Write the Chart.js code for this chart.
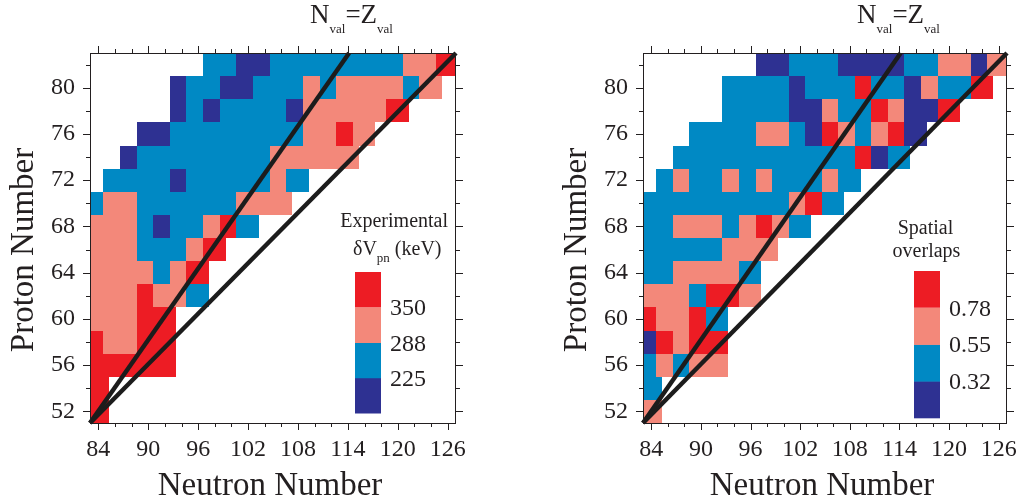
<!DOCTYPE html>
<html>
<head>
<meta charset="utf-8">
<script src="https://cdn.jsdelivr.net/npm/chart.js@4.4.1/dist/chart.umd.min.js"></script>
<style>
  html, body { margin: 0; padding: 0; background: #fff; }
  body { width: 1023px; height: 502px; position: relative; overflow: hidden; }
  canvas { position: absolute; top: 0; }
  #left { left: 0; }
  #right { left: 520px; }
</style>
</head>
<body>
<canvas id="left" width="520" height="502"></canvas>
<canvas id="right" width="503" height="502"></canvas>
<script>
// even-even nuclei between the Z=50 and Z=82, N=82 and N=126 shells
const protons = [82, 80, 78, 76, 74, 72, 70, 68, 66, 64, 62, 60, 58, 56, 54, 52];
const rowStart = [98, 94, 94, 90, 88, 86, 84, 84, 84, 84, 84, 84, 84, 84, 84, 84];

const xTicks = [84, 90, 96, 102, 108, 114, 120, 126];
const yTicks = [52, 56, 60, 64, 68, 72, 76, 80];

// experimental delta V_pn in keV, one array per proton row starting at rowStart
const dVpn = [
  [255, 255, 200, 200, 255, 255, 255, 255, 255, 255, 255, 255, 320, 320, 380],
  [200, 255, 255, 200, 200, 255, 255, 255, 320, 255, 320, 320, 320, 320, 255, 320],
  [200, 255, 200, 255, 255, 255, 255, 200, 320, 320, 320, 320, 320, 380],
  [200, 200, 255, 255, 255, 255, 255, 255, 255, 255, 320, 320, 380, 320],
  [200, 255, 255, 255, 255, 255, 255, 255, 255, 320, 320, 320, 320, 320],
  [255, 255, 255, 255, 200, 255, 255, 255, 255, 255, 320, 255],
  [255, 320, 320, 255, 255, 255, 255, 255, 255, 320, 320, 320],
  [320, 320, 320, 255, 200, 255, 255, 320, 380, 255],
  [320, 320, 320, 255, 255, 255, 320, 380],
  [320, 320, 320, 320, 255, 320, 380],
  [320, 320, 320, 380, 320, 320, 255],
  [320, 320, 320, 380, 380],
  [380, 320, 320, 380, 380],
  [380, 380, 380, 380, 380],
  [380],
  [380]
];

// spatial overlaps of the last proton and neutron orbits
const overlap = [
  [0.25, 0.25, 0.45, 0.45, 0.45, 0.25, 0.25, 0.25, 0.25, 0.45, 0.45, 0.66, 0.66, 0.25, 0.66],
  [0.45, 0.45, 0.45, 0.45, 0.25, 0.45, 0.45, 0.45, 0.88, 0.45, 0.45, 0.25, 0.66, 0.45, 0.45, 0.88],
  [0.45, 0.45, 0.45, 0.45, 0.25, 0.25, 0.66, 0.45, 0.45, 0.88, 0.66, 0.25, 0.25, 0.88],
  [0.45, 0.45, 0.45, 0.45, 0.66, 0.66, 0.45, 0.25, 0.88, 0.66, 0.45, 0.66, 0.88, 0.25],
  [0.45, 0.45, 0.45, 0.45, 0.45, 0.45, 0.45, 0.45, 0.45, 0.45, 0.45, 0.88, 0.25, 0.45],
  [0.45, 0.66, 0.45, 0.45, 0.66, 0.45, 0.66, 0.45, 0.45, 0.45, 0.66, 0.45],
  [0.45, 0.45, 0.45, 0.45, 0.45, 0.45, 0.45, 0.45, 0.45, 0.66, 0.88, 0.45],
  [0.45, 0.45, 0.66, 0.66, 0.66, 0.45, 0.66, 0.88, 0.66, 0.45],
  [0.45, 0.45, 0.45, 0.45, 0.45, 0.66, 0.66, 0.66],
  [0.45, 0.45, 0.66, 0.66, 0.66, 0.66, 0.45],
  [0.66, 0.66, 0.66, 0.45, 0.88, 0.88, 0.66],
  [0.88, 0.66, 0.66, 0.88, 0.45],
  [0.25, 0.88, 0.66, 0.88, 0.88],
  [0.45, 0.66, 0.45, 0.66, 0.66],
  [0.45],
  [0.66]
];

const dVpnBins = [225, 288, 350];
const overlapBins = [0.32, 0.55, 0.78];
const binColors = ["#2e3192", "#0089c4", "#f3887a", "#ed1c24"];

const nValLine = [{ x: 83, y: 51 }, { x: 114.15, y: 83 }];
const diagLine = [{ x: 83, y: 51 }, { x: 127, y: 83 }];

const INK = "#231f20";
const SERIF = "'Liberation Serif', 'Times New Roman', serif";

function colorFor(v, bins) {
  let k = 0;
  while (k < bins.length && v >= bins[k]) k++;
  return binColors[k];
}

// chain of text pieces with their own size and baseline shift (subscripts)
function drawRuns(ctx, x, y, runs) {
  runs.forEach(([t, size, dy]) => {
    ctx.font = size + "px " + SERIF;
    ctx.fillText(t, x, y + dy);
    x += ctx.measureText(t).width;
  });
}

const cellPlugin = {
  id: "cells",
  beforeDatasetsDraw(chart, args, opts) {
    const { ctx, chartArea: a, scales: { x, y } } = chart;
    ctx.save();
    ctx.beginPath();
    ctx.rect(a.left, a.top, a.width, a.height);
    ctx.clip();
    opts.rows.forEach((vals, r) => {
      const z = protons[r];
      vals.forEach((v, i) => {
        const n = rowStart[r] + 2 * i;
        const last = i === vals.length - 1;
        const x0 = Math.round(x.getPixelForValue(Math.max(n - 1.4, x.min)));
        const x1 = Math.round(x.getPixelForValue(Math.min(n + (last ? 1.3 : 0.6), x.max)));
        const y0 = Math.round(y.getPixelForValue(z + 1));
        const y1 = Math.round(y.getPixelForValue(z - 1));
        ctx.fillStyle = colorFor(v, opts.bins);
        ctx.fillRect(x0, y0, x1 - x0, y1 - y0);
      });
    });
    ctx.restore();
  }
};

const framePlugin = {
  id: "frame",
  afterDraw(chart) {
    const { ctx, chartArea: a, scales: { x, y } } = chart;
    ctx.save();
    ctx.strokeStyle = INK;
    ctx.lineWidth = 1;
    ctx.strokeRect(a.left + 0.5, a.top + 0.5, a.width - 1, a.height);
    ctx.beginPath();
    for (let n = 84; n <= 126; n += 2) {
      const px = Math.round(x.getPixelForValue(n)) + 0.5;
      const len = (n - 84) % 6 === 0 ? 7 : 4;
      ctx.moveTo(px, a.bottom); ctx.lineTo(px, a.bottom + len);
      ctx.moveTo(px, a.top); ctx.lineTo(px, a.top - len);
    }
    for (let z = 52; z <= 82; z += 2) {
      const py = Math.round(y.getPixelForValue(z)) + 0.5;
      const len = (z - 52) % 4 === 0 ? 7 : 4;
      ctx.moveTo(a.left, py); ctx.lineTo(a.left - len, py);
      ctx.moveTo(a.right, py); ctx.lineTo(a.right + len, py);
    }
    ctx.stroke();
    ctx.restore();
  }
};

const textPlugin = {
  id: "texts",
  afterDraw(chart, args, opts) {
    const { ctx, chartArea: a } = chart;
    ctx.save();
    ctx.fillStyle = INK;
    ctx.textBaseline = "alphabetic";

    // axis titles
    ctx.font = "33px " + SERIF;
    ctx.textAlign = "center";
    ctx.fillText("Neutron Number", (a.left + a.right) / 2 - 3, 495);
    ctx.save();
    ctx.translate(a.left - 57, 250);
    ctx.rotate(-Math.PI / 2);
    ctx.fillText("Proton Number", 0, 0);
    ctx.restore();

    // N_val = Z_val label at the top of the steep line
    ctx.textAlign = "left";
    drawRuns(ctx, opts.titleX, 23, [["N", 27, 0], ["val", 13, 10], ["=", 27, 0], ["Z", 27, 0], ["val", 13, 10]]);

    // color bar
    const lg = opts.legend;
    binColors.forEach((c, k) => {
      ctx.fillStyle = c;
      ctx.fillRect(lg.x, lg.y + (3 - k) * lg.h, lg.w, lg.h + (k === 3 ? 0 : 0.5));
    });
    ctx.fillStyle = INK;
    ctx.font = "24px " + SERIF;
    opts.binLabels.forEach((t, k) => {
      ctx.fillText(t, lg.labelX, lg.y + (3 - k) * lg.h + 8);
    });

    // caption above the color bar
    opts.caption.forEach(line => {
      if (line.runs) {
        ctx.textAlign = "left";
        drawRuns(ctx, line.x, line.y, line.runs);
      } else {
        ctx.font = line.size + "px " + SERIF;
        ctx.textAlign = line.align;
        ctx.fillText(line.t, line.x, line.y);
      }
    });
    ctx.restore();
  }
};

function makeChart(id, rows, bins, box, extra) {
  const tickFont = { family: SERIF, size: 24 };
  return new Chart(document.getElementById(id), {
    type: "scatter",
    data: {
      datasets: [
        { data: nValLine, showLine: true, borderColor: "#1c1c1c", borderWidth: 4.5, pointRadius: 0, clip: 3 },
        { data: diagLine, showLine: true, borderColor: "#1c1c1c", borderWidth: 4.5, pointRadius: 0, clip: 3 }
      ]
    },
    options: {
      responsive: false,
      animation: false,
      events: [],
      layout: { padding: 0 },
      plugins: {
        legend: { display: false },
        tooltip: { enabled: false },
        cells: { rows: rows, bins: bins },
        texts: extra
      },
      scales: {
        x: {
          type: "linear", position: "bottom", min: 83, max: 127,
          afterBuildTicks: s => { s.ticks = xTicks.map(v => ({ value: v })); },
          afterFit: s => { s.height = box.bottom; },
          grid: { display: false }, border: { display: false },
          ticks: { font: tickFont, color: INK, padding: 4, maxRotation: 0, autoSkip: false }
        },
        xTop: {
          type: "linear", position: "top", min: 83, max: 127,
          afterFit: s => { s.height = box.top; },
          grid: { display: false }, border: { display: false }, ticks: { display: false }
        },
        y: {
          type: "linear", position: "left", min: 51, max: 83,
          afterBuildTicks: s => { s.ticks = yTicks.map(v => ({ value: v })); },
          afterFit: s => { s.width = box.left; },
          grid: { display: false }, border: { display: false },
          ticks: { font: tickFont, color: INK, padding: 7, autoSkip: false }
        },
        yRight: {
          type: "linear", position: "right", min: 51, max: 83,
          afterFit: s => { s.width = box.right; },
          grid: { display: false }, border: { display: false }, ticks: { display: false }
        }
      }
    },
    plugins: [cellPlugin, framePlugin, textPlugin]
  });
}

makeChart("left", dVpn, dVpnBins, { left: 90, right: 64, top: 53, bottom: 79 }, {
  titleX: 310,
  legend: { x: 355, y: 272, w: 26, h: 35.25, labelX: 390 },
  binLabels: dVpnBins.map(String),
  caption: [
    { t: "Experimental", x: 448, y: 227, size: 20, align: "right" },
    { x: 353, y: 255, runs: [["δV", 20, 0], ["pn", 13, 7], [" (keV)", 20, 0]] }
  ]
});

makeChart("right", overlap, overlapBins, { left: 123, right: 16, top: 53, bottom: 79 }, {
  titleX: 337,
  legend: { x: 394, y: 271, w: 26, h: 36.7, labelX: 429 },
  binLabels: overlapBins.map(v => v.toFixed(2)),
  caption: [
    { t: "Spatial", x: 405.5, y: 234, size: 20, align: "center" },
    { t: "overlaps", x: 406.5, y: 256.5, size: 20, align: "center" }
  ]
});
</script>
</body>
</html>
